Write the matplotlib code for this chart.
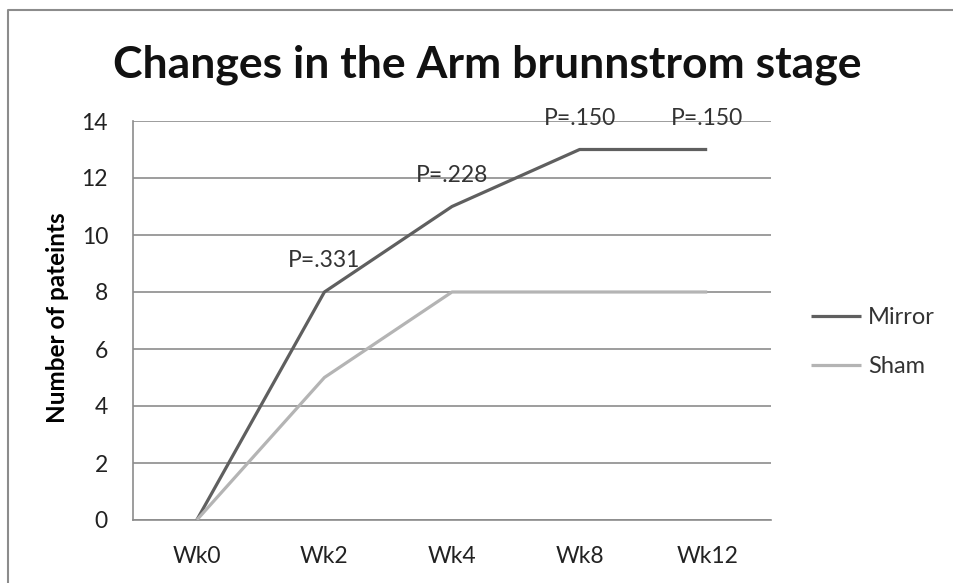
import matplotlib
matplotlib.use('Agg')
import matplotlib.pyplot as plt
from matplotlib.lines import Line2D

# data
weeks = ['Wk0', 'Wk2', 'Wk4', 'Wk8', 'Wk12']
mirror = [0, 8, 11, 13, 13]
sham = [0, 5, 8, 8, 8]
p_labels = ['', 'P=.331', 'P=.228', 'P=.150', 'P=.150']

plt.rcParams['font.family'] = ['Lato', 'DejaVu Sans']

W, H = 954, 583
fig = plt.figure(figsize=(W / 100, H / 100), dpi=100)
ax = fig.add_axes([133 / W, 1 - 520 / H, (771 - 133) / W, (520 - 121) / H])

x = list(range(len(weeks)))
ax.plot(x, mirror, color='#5f5f5f', lw=2.3, label='Mirror', solid_capstyle='butt', zorder=3)
ax.plot(x, sham, color='#b4b4b4', lw=2.3, label='Sham', solid_capstyle='butt', zorder=3)

for xi, yi, t in zip(x, mirror, p_labels):
    if t:
        ax.text(xi, yi + 1.1, t, ha='center', va='center', fontsize=16.5, color='#333333', zorder=4)

ax.set_xlim(-0.5, 4.5)
ax.set_ylim(0, 14)
ax.set_yticks(range(0, 15, 2))
ax.set_xticks(x)
ax.set_xticklabels(weeks)
ax.tick_params(length=0, labelsize=16.5, colors='#222222')
ax.tick_params(axis='x', pad=19)
ax.tick_params(axis='y', pad=18)
ax.grid(axis='y', color='#8c8c8c', lw=1.2)
ax.set_axisbelow(True)
for s in ['top', 'right']:
    ax.spines[s].set_visible(False)
for s in ['left', 'bottom']:
    ax.spines[s].set_color('#8c8c8c')
    ax.spines[s].set_linewidth(1.2)

ax.set_ylabel('Number of pateints', fontsize=17.5, fontweight='bold')
ax.yaxis.set_label_coords(69 / W, 1 - 318 / H, transform=fig.transFigure)

fig.text(487 / W, 1 - 65 / H, 'Changes in the Arm brunnstrom stage', ha='center', va='center',
         fontsize=32, fontweight='bold', color='#111111')

leg = fig.legend(loc='center left', bbox_to_anchor=(790 / W, 1 - 342 / H), frameon=False,
                 fontsize=17, handlelength=2.1, handletextpad=0.3, labelspacing=1.2)
for t in leg.get_texts():
    t.set_color('#333333')

# chart area border (left and top visible)
fig.add_artist(Line2D([8 / W, 8 / W, 1], [0, 1 - 10 / H, 1 - 10 / H], color='#8c8c8c', lw=1.5,
                      transform=fig.transFigure))

fig.savefig('out.png', dpi=100)
